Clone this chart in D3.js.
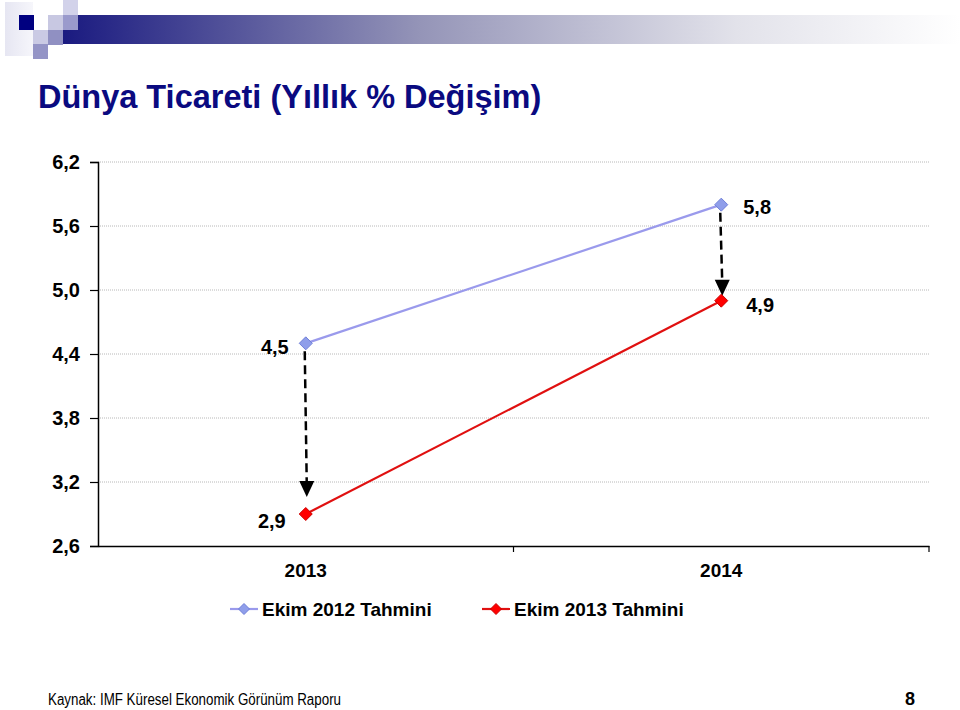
<!DOCTYPE html>
<html><head><meta charset="utf-8">
<script src="https://cdn.jsdelivr.net/npm/d3@7"></script>
<style>body{margin:0;background:#fff;}svg{display:block;font-family:"Liberation Sans",Arial,sans-serif;}</style>
</head><body>
<svg id="c" width="960" height="710"></svg>
<script>
const categories = ["2013", "2014"];
const seriesNames = ["Ekim 2012 Tahmini", "Ekim 2013 Tahmini"];
const ekim2012 = [4.5, 5.8];
const ekim2013 = [2.9, 4.9];
const yTicks = [2.6, 3.2, 3.8, 4.4, 5.0, 5.6, 6.2];
const title = "Dünya Ticareti (Yıllık % Değişim)";
const source = "Kaynak: IMF Küresel Ekonomik Görünüm Raporu";
const pageNo = "8";

(function () {
const svg = d3.select("#c");
const fmt = v => d3.format(".1f")(v).replace(".", ",");
const FS = 19;

// header decoration
const defs = svg.append("defs");
const g1 = defs.append("linearGradient").attr("id", "hdr").attr("x1", "0%").attr("x2", "100%");
g1.append("stop").attr("offset", "0%").attr("stop-color", "#1a1a80");
g1.append("stop").attr("offset", "40%").attr("stop-color", "#9595b8");
g1.append("stop").attr("offset", "75%").attr("stop-color", "#e2e2ea");
g1.append("stop").attr("offset", "100%").attr("stop-color", "#ffffff");
const g2 = defs.append("linearGradient").attr("id", "pale").attr("x1", "0%").attr("x2", "100%");
g2.append("stop").attr("offset", "0%").attr("stop-color", "#e6e6f2");
g2.append("stop").attr("offset", "100%").attr("stop-color", "#f6f6fb");
svg.append("rect").attr("x", 5).attr("y", 2).attr("width", 28).attr("height", 54).attr("fill", "url(#pale)");
svg.append("rect").attr("x", 63).attr("y", 15).attr("width", 897).attr("height", 29).attr("fill", "url(#hdr)");
const sq = [[19,15,"#000080"],[48,15,"#c8c8e2"],[63,0,"#d2d2ea"],[63,15,"#9a9acc"],[33,30,"#cacae4"],[48,30,"#9090c2"],[33,44,"#9494c6"]];
svg.selectAll("rect.sq").data(sq).join("rect").attr("class","sq")
  .attr("x", d => d[0]).attr("y", d => d[1]).attr("width", 15).attr("height", 15).attr("fill", d => d[2]);

// title
svg.append("text").attr("x", 38).attr("y", 108).attr("fill", "#0a0a80")
  .attr("font-size", 32.5).attr("font-weight", "bold").text(title);

// scales
const pl = 98, pr = 929, pt = 162, pb = 546;
const x = d3.scaleBand().domain(categories).range([pl, pr]);
const y = d3.scaleLinear().domain([2.6, 6.2]).range([pb, pt]);
const cx = c => x(c) + x.bandwidth() / 2;

// gridlines
svg.append("g").selectAll("line").data(yTicks.filter(t => t > 2.6)).join("line")
  .attr("x1", pl).attr("x2", pr).attr("y1", d => y(d)).attr("y2", d => y(d))
  .attr("stroke", "#b8b8b8").attr("stroke-width", 1).attr("stroke-dasharray", "1,1");

// y axis
const ya = svg.append("g").attr("transform", `translate(${pl},0)`)
  .call(d3.axisLeft(y).tickValues(yTicks).tickFormat(fmt).tickSize(8).tickPadding(10));
ya.select(".domain").attr("stroke", "#000").attr("stroke-width", 1.5);
ya.selectAll(".tick line").attr("stroke", "#000").attr("stroke-width", 1.2);
ya.selectAll(".tick text").attr("font-size", 20).attr("font-weight", "bold").attr("fill", "#000")
  .attr("font-family", "Liberation Sans, Arial, sans-serif");

// x axis
const xa = svg.append("g").attr("transform", `translate(0,${pb})`)
  .call(d3.axisBottom(x).tickSize(0).tickPadding(18));
xa.select(".domain").attr("stroke", "#000").attr("stroke-width", 1.5);
xa.selectAll(".tick text").attr("font-size", FS).attr("font-weight", "bold").attr("fill", "#000")
  .attr("font-family", "Liberation Sans, Arial, sans-serif");
const bounds = [x(categories[1]), pr];
xa.selectAll("line.bt").data(bounds).join("line").attr("class", "bt")
  .attr("x1", d => d).attr("x2", d => d).attr("y1", 0).attr("y2", 6)
  .attr("stroke", "#000").attr("stroke-width", 1.2);

function diamondPath(s) {
  return `M0,${-s}L${s},0L0,${s}L${-s},0Z`;
}

const series = [
  { name: seriesNames[0], values: ekim2012, line: "#9a9aec", fill: "#8f9eea", stroke: "#6f7fd8" },
  { name: seriesNames[1], values: ekim2013, line: "#e01010", fill: "#ff0000", stroke: "#cc0000" }
];

const line = d3.line().x((d, i) => cx(categories[i])).y(d => y(d));

// arrows
const arrowGap = [17, 5];
categories.forEach((c, i) => {
  const tx = cx(c) + 1, ty = y(ekim2013[i]) - arrowGap[i];
  svg.append("line").attr("x1", cx(c) - 1).attr("x2", tx)
    .attr("y1", y(ekim2012[i]) + 8).attr("y2", ty - 13)
    .attr("stroke", "#000").attr("stroke-width", 2.5).attr("stroke-dasharray", "9,5");
  svg.append("path").attr("d", `M${tx - 7.5},${ty - 16}L${tx + 7.5},${ty - 16}L${tx},${ty}Z`).attr("fill", "#000");
});

series.forEach(s => {
  svg.append("path").datum(s.values).attr("d", line).attr("fill", "none")
    .attr("stroke", s.line).attr("stroke-width", 2.2);
  svg.append("g").selectAll("path").data(s.values).join("path")
    .attr("transform", (d, i) => `translate(${cx(categories[i])},${y(d)})`)
    .attr("d", diamondPath(6.5)).attr("fill", s.fill).attr("stroke", s.stroke).attr("stroke-width", 1);
});

// data labels
const lbl = svg.append("g").attr("font-size", 20).attr("font-weight", "bold").attr("fill", "#000");
lbl.append("text").attr("x", cx(categories[0]) - 17).attr("y", y(ekim2012[0]) + 11).attr("text-anchor", "end").text(fmt(ekim2012[0]));
lbl.append("text").attr("x", cx(categories[0]) - 20).attr("y", y(ekim2013[0]) + 14).attr("text-anchor", "end").text(fmt(ekim2013[0]));
lbl.append("text").attr("x", cx(categories[1]) + 22).attr("y", y(ekim2012[1]) + 9).attr("text-anchor", "start").text(fmt(ekim2012[1]));
lbl.append("text").attr("x", cx(categories[1]) + 25).attr("y", y(ekim2013[1]) + 11).attr("text-anchor", "start").text(fmt(ekim2013[1]));

// legend
const legX = [230, 482];
const leg = svg.append("g");
series.forEach((s, i) => {
  const g = leg.append("g").attr("transform", `translate(${legX[i]},609)`);
  g.append("line").attr("x1", 0).attr("x2", 28).attr("stroke", s.line).attr("stroke-width", 2.2);
  g.append("path").attr("transform", "translate(14,0)").attr("d", diamondPath(5.5))
    .attr("fill", s.fill).attr("stroke", s.stroke).attr("stroke-width", 1);
  g.append("text").attr("x", 32).attr("y", 7).attr("font-size", FS).attr("font-weight", "bold").text(s.name);
});

// footer
svg.append("text").attr("x", 48).attr("y", 705).attr("font-size", 16)
  .attr("textLength", 293).attr("lengthAdjust", "spacingAndGlyphs").text(source);
svg.append("text").attr("x", 905).attr("y", 705).attr("font-size", 18).attr("font-weight", "bold").text(pageNo);
})();
</script>
</body></html>
